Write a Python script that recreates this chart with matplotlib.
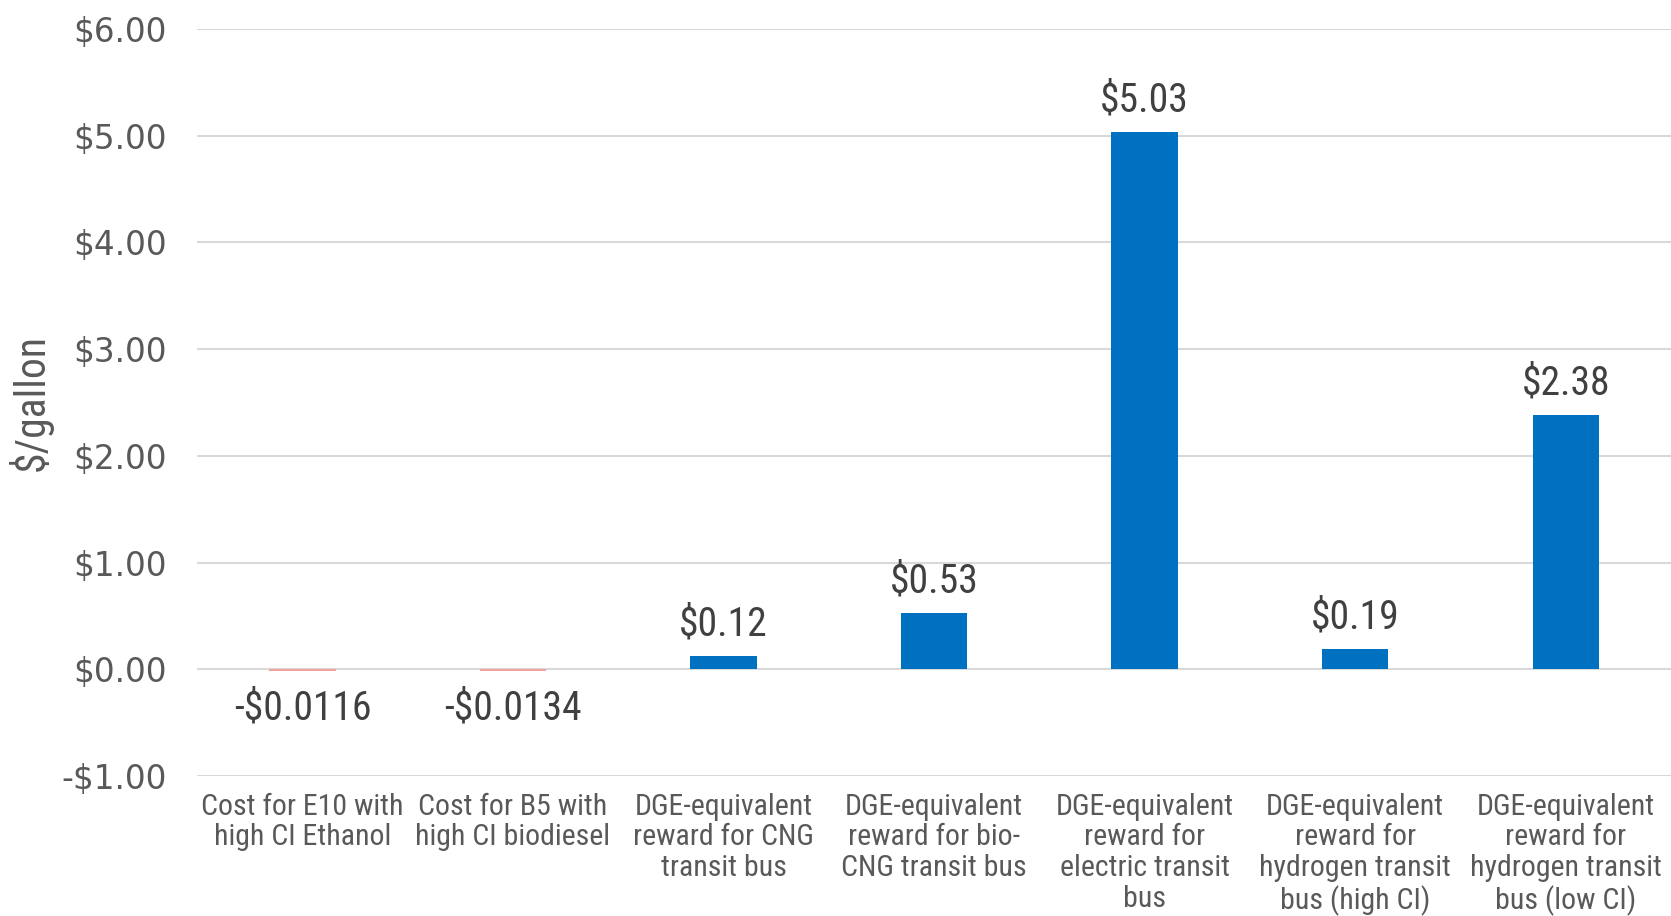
import matplotlib
matplotlib.use("Agg")
import matplotlib.pyplot as plt
from matplotlib import font_manager as fm

categories = [
    "Cost for E10 with\nhigh CI Ethanol",
    "Cost for B5 with\nhigh CI biodiesel",
    "DGE-equivalent\nreward for CNG\ntransit bus",
    "DGE-equivalent\nreward for bio-\nCNG transit bus",
    "DGE-equivalent\nreward for\nelectric transit\nbus",
    "DGE-equivalent\nreward for\nhydrogen transit\nbus (high CI)",
    "DGE-equivalent\nreward for\nhydrogen transit\nbus (low CI)",
]
values = [-0.0116, -0.0134, 0.12, 0.53, 5.03, 0.19, 2.38]
value_labels = ["-$0.0116", "-$0.0134", "$0.12", "$0.53", "$5.03", "$0.19", "$2.38"]
yticks = [-1, 0, 1, 2, 3, 4, 5, 6]
ytick_labels = ["-$1.00", "$0.00", "$1.00", "$2.00", "$3.00", "$4.00", "$5.00", "$6.00"]

names = {f.name for f in fm.fontManager.ttflist}
narrow = None
for cand in ["Roboto Condensed", "Liberation Sans Narrow", "DejaVu Sans Condensed", "Open Sans Condensed"]:
    if cand in names:
        narrow = cand
        break
cond_kw = {"family": narrow} if narrow else {"family": "DejaVu Sans", "stretch": "condensed"}

fig = plt.figure(figsize=(16.71, 9.16), dpi=100)
ax = fig.add_axes([0.118, 0.1528, 0.882, 0.8158])

colors = ["#F4A3A3" if v < 0 else "#0070C0" for v in values]
x = list(range(len(values)))
ax.bar(x, values, width=0.315, color=colors, zorder=3)

ax.set_xlim(-0.5, len(values) - 0.5)
ax.set_ylim(-1, 6)
ax.set_yticks(yticks)
ax.set_yticklabels(ytick_labels, fontsize=23.5, color="#595959", family="DejaVu Sans")
ax.set_xticks(x)
ax.set_xticklabels(categories, fontsize=21.5, color="#595959", linespacing=1.12, **cond_kw)
ax.tick_params(axis="both", length=0)
ax.tick_params(axis="x", pad=12)
ax.tick_params(axis="y", pad=22)
ax.grid(axis="y", color="#D9D9D9", linewidth=1.5, zorder=0)
for s in ax.spines.values():
    s.set_visible(False)

for xi, v, lab in zip(x, values, value_labels):
    if v >= 0:
        ax.annotate(lab, (xi, v), xytext=(0, 9), textcoords="offset points",
                    ha="center", va="bottom", fontsize=28.5, color="#404040", **cond_kw)
    else:
        ax.annotate(lab, (xi, v), xytext=(0, -13), textcoords="offset points",
                    ha="center", va="top", fontsize=28.5, color="#404040", **cond_kw)

ax.set_ylabel("$/gallon", fontsize=30, color="#595959", labelpad=6, **cond_kw)

fig.savefig("out.png", dpi=100)
